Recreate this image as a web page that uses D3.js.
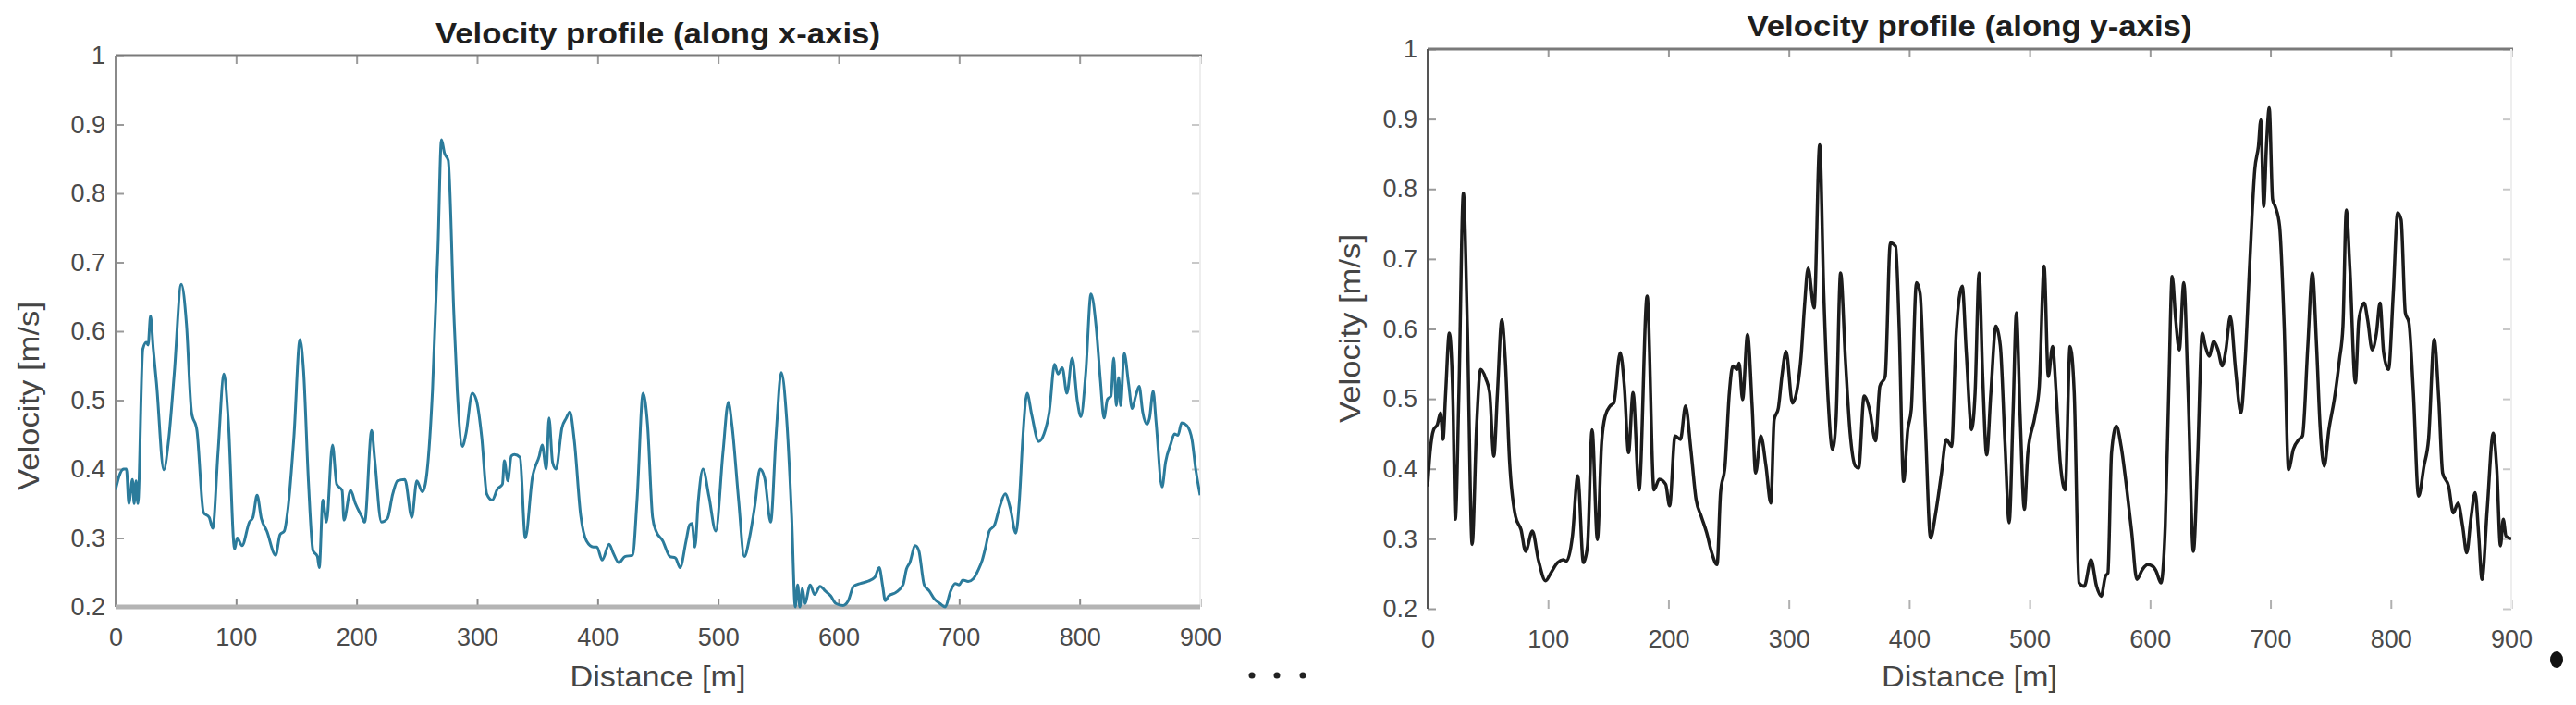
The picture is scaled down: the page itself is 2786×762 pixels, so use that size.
<!DOCTYPE html>
<html>
<head>
<meta charset="utf-8">
<script src="https://cdn.jsdelivr.net/npm/d3@7"></script>
<style>
  html, body { margin: 0; padding: 0; background: #fff; }
  svg { display: block; }
  text { font-family: "Liberation Sans", Arial, Helvetica, sans-serif; }
</style>
</head>
<body>
<svg id="chart" width="2786" height="762"></svg>
<script>
// ---------- Data ----------
const xTicks = [0, 100, 200, 300, 400, 500, 600, 700, 800, 900];
const yTicks = [0.2, 0.3, 0.4, 0.5, 0.6, 0.7, 0.8, 0.9, 1];

const titleX = "Velocity profile (along x-axis)";
const titleY = "Velocity profile (along y-axis)";
const xLabel = "Distance [m]";
const yLabel = "Velocity [m/s]";

// Velocity profile along x-axis
const distX = [0,3,6.7,9,11,14,15.4,17,18.5,22.6,25.5,27,29,31.3,34,40,44,48.7,54.5,58.8,63,67.5,73,77.7,80.6,85,90,93.6,98.8,100.9,105,111,114,117.4,121,125.5,132.8,136.5,140,143,148,153,156,160,163.8,167.5,169,172,175,180,183.5,188,189.5,195,199,204,206.7,212.5,215,220.6,225.5,230,234,240,245.8,250,254.5,257,263,267.5,270.4,273,276,280.6,283.5,287.8,290.7,296,299.4,303.8,308,312.5,316.8,321,322.6,325.5,328.4,331,335.6,340,345.8,351.6,354,357.4,359.7,362.6,365.5,370.4,374,377,380.6,386,390.7,396.5,399.4,403.8,409.6,413,417.7,422.6,429,432.7,437.7,441.4,445.6,448.5,454,460,464.6,468.4,473.4,476.3,478.3,480.7,483.6,487.4,492.4,498,504,508.5,511.4,517,521.7,526,530.4,534.8,538.6,543.6,548,552.4,556.8,561,564,566,567.8,570,572,576.4,580,584.6,589,593.4,597.7,603.6,608,612.4,618.2,624,630,633.7,636.4,638.7,641.6,647.5,653.4,656.3,659,663.6,666.5,671,675.3,679.7,684,688.5,692.9,696.7,700,703,707.5,711.8,716.2,719.2,722,725,729.4,733.8,738.2,742.6,747,750,752.9,756.4,760.2,766,770.4,774.8,779.2,782,785.6,789.4,793.8,798.2,801,805,809.4,813.7,817.2,820.2,823,826,828.3,830.4,832.4,834,837,840.6,843.6,846.5,849.4,852.3,855.8,858,861,863.4,868.4,871.3,875.7,878.7,881.6,884.6,889,893.3,896.3,900];
const velX = [0.37,0.39,0.40,0.40,0.35,0.385,0.35,0.383,0.35,0.574,0.584,0.58,0.622,0.574,0.524,0.399,0.442,0.538,0.668,0.611,0.483,0.456,0.337,0.33,0.314,0.424,0.538,0.469,0.284,0.30,0.289,0.323,0.33,0.362,0.328,0.31,0.275,0.305,0.31,0.342,0.447,0.588,0.542,0.383,0.282,0.273,0.257,0.355,0.323,0.435,0.378,0.369,0.326,0.369,0.35,0.332,0.323,0.456,0.415,0.323,0.328,0.364,0.383,0.385,0.33,0.383,0.367,0.378,0.515,0.72,0.878,0.858,0.848,0.63,0.515,0.433,0.451,0.51,0.50,0.447,0.364,0.355,0.371,0.378,0.412,0.383,0.419,0.421,0.417,0.30,0.387,0.419,0.435,0.40,0.474,0.41,0.40,0.46,0.474,0.483,0.442,0.332,0.296,0.287,0.287,0.268,0.291,0.278,0.264,0.273,0.275,0.355,0.51,0.465,0.33,0.31,0.296,0.273,0.271,0.257,0.296,0.319,0.321,0.287,0.355,0.40,0.36,0.31,0.424,0.497,0.465,0.355,0.273,0.30,0.346,0.40,0.387,0.323,0.447,0.54,0.474,0.332,0.20,0.232,0.2,0.227,0.205,0.232,0.218,0.23,0.223,0.216,0.205,0.202,0.209,0.23,0.234,0.237,0.243,0.257,0.232,0.209,0.216,0.221,0.232,0.255,0.264,0.289,0.282,0.232,0.223,0.211,0.205,0.2,0.223,0.234,0.232,0.239,0.237,0.241,0.255,0.268,0.287,0.31,0.319,0.346,0.364,0.342,0.307,0.355,0.447,0.51,0.479,0.44,0.451,0.483,0.552,0.538,0.547,0.51,0.561,0.497,0.476,0.538,0.654,0.606,0.529,0.474,0.501,0.506,0.561,0.492,0.533,0.492,0.568,0.524,0.488,0.506,0.52,0.483,0.465,0.474,0.513,0.469,0.374,0.41,0.437,0.451,0.449,0.467,0.463,0.442,0.40,0.362];

// Velocity profile along y-axis
const distY = [0,2,5,8,10.8,12.8,15,18,21,23,26,29.7,33,37,40.7,44,48.5,51.5,55,58,61.6,64.5,68,73,77.6,81.4,87,92,98,102.3,108,112.5,115.4,120.3,124.7,129.4,132.8,136.6,141,144.5,147.4,151.7,154.6,160,163.4,166.9,170.6,175.6,182.3,188,192.4,197.7,201,205.5,210,214.2,218.6,223,227.3,231.7,236,240.4,243.3,247,250.6,253.5,257,258.7,261.6,265.7,269.5,272.4,276.7,281,285,287.8,291.3,294.2,297.7,303,307.3,310.2,313,316,321,325.6,329,332.6,336.3,339.2,343,347,350.9,355.2,358,362.5,367,372,375.6,380,384.3,388.7,391.6,395.3,398.8,401.7,406,409,413.4,417.7,422,426.5,430.8,435.2,439,444,447.4,451.8,454.7,458,461,464.3,467.8,472,475.7,479.5,483,486.3,489,492,495.6,498.5,504.4,508,512,515.5,519,522,525.4,529.5,533.6,537,541,545.3,551,555.6,559.4,563,565,568,572,576,580.4,584.8,589,593.6,598,602,605,609,612.6,615.5,618.4,621.3,624.3,628,631.6,636,639.5,643.3,646,649,653,656.4,660,663,666.7,671,675.4,679,682.7,687,690,692,694.4,696.8,699,701.8,704,707.6,711.4,715,719,723.7,726.6,731,734.8,738.3,741.2,744.7,748.5,753,757.3,760.2,763,766,770.5,773.4,777.8,780.7,784.5,788,791,794,798,802,805.6,808.5,812,815,818.7,823,827.5,831.3,836,839.8,843,848,851.8,855.8,859.6,863,866.4,870,872.8,875.7,880,885,888,891,893.3,895.6,900];
const velY = [0.375,0.423,0.456,0.463,0.48,0.442,0.509,0.594,0.499,0.328,0.509,0.794,0.604,0.292,0.461,0.542,0.528,0.509,0.418,0.509,0.613,0.556,0.413,0.332,0.313,0.282,0.311,0.27,0.24,0.251,0.266,0.27,0.268,0.304,0.39,0.266,0.29,0.456,0.299,0.437,0.475,0.49,0.494,0.566,0.518,0.423,0.509,0.37,0.647,0.37,0.385,0.378,0.347,0.447,0.442,0.49,0.428,0.356,0.332,0.309,0.28,0.263,0.366,0.404,0.509,0.547,0.542,0.551,0.499,0.592,0.49,0.394,0.447,0.404,0.351,0.47,0.487,0.532,0.568,0.494,0.518,0.561,0.632,0.687,0.63,0.863,0.651,0.499,0.428,0.47,0.68,0.556,0.451,0.404,0.401,0.504,0.485,0.44,0.518,0.532,0.723,0.718,0.604,0.382,0.456,0.485,0.666,0.651,0.461,0.301,0.337,0.39,0.442,0.432,0.594,0.661,0.566,0.456,0.509,0.68,0.532,0.42,0.509,0.604,0.575,0.437,0.323,0.485,0.623,0.48,0.342,0.423,0.475,0.518,0.69,0.532,0.575,0.509,0.409,0.37,0.575,0.509,0.237,0.232,0.27,0.232,0.218,0.247,0.251,0.423,0.461,0.432,0.375,0.309,0.242,0.256,0.263,0.261,0.254,0.237,0.318,0.509,0.675,0.613,0.57,0.666,0.509,0.282,0.413,0.594,0.575,0.561,0.582,0.57,0.547,0.57,0.618,0.542,0.48,0.556,0.69,0.828,0.861,0.899,0.775,0.866,0.916,0.785,0.775,0.747,0.604,0.399,0.428,0.442,0.447,0.575,0.68,0.575,0.461,0.404,0.456,0.499,0.556,0.604,0.77,0.685,0.523,0.613,0.637,0.613,0.57,0.594,0.637,0.566,0.542,0.651,0.766,0.756,0.623,0.609,0.509,0.361,0.404,0.442,0.585,0.499,0.394,0.375,0.337,0.351,0.318,0.28,0.328,0.366,0.309,0.242,0.342,0.451,0.399,0.29,0.328,0.304,0.30];

// ---------- Drawing ----------
const svg = d3.select("#chart");

function drawPanel(cfg) {
  const x = d3.scaleLinear().domain([0, 900]).range([cfg.left, cfg.right]);
  const y = d3.scaleLinear().domain([0.2, 1]).range([cfg.bottom, cfg.top]);
  const g = svg.append("g");

  const clipId = "clip" + cfg.id;
  svg.append("clipPath").attr("id", clipId)
    .append("rect")
    .attr("x", cfg.left).attr("y", cfg.top - 4)
    .attr("width", cfg.right - cfg.left).attr("height", cfg.bottom - cfg.top + 6);

  // Bottom ticks + labels
  const bottomAxis = g.append("g").attr("transform", `translate(0,${cfg.bottom})`)
    .call(d3.axisBottom(x).tickValues(xTicks).tickSizeInner(-9).tickSizeOuter(0)
      .tickPadding(23).tickFormat(d => String(d)));
  bottomAxis.select(".domain").remove();
  bottomAxis.selectAll(".tick line").attr("stroke", cfg.bottomTickColor).attr("stroke-width", 2);
  bottomAxis.selectAll(".tick text").attr("fill", "#4a4a4a").style("font-size", "27px");

  // Top ticks
  const topAxis = g.append("g").attr("transform", `translate(0,${cfg.top})`)
    .call(d3.axisTop(x).tickValues(xTicks).tickSizeInner(-9).tickSizeOuter(0).tickFormat(""));
  topAxis.select(".domain").remove();
  topAxis.selectAll(".tick line").attr("stroke", "#9a9a9a").attr("stroke-width", 2);

  // Left ticks + labels
  const leftAxis = g.append("g").attr("transform", `translate(${cfg.left},0)`)
    .call(d3.axisLeft(y).tickValues(yTicks).tickSizeInner(-9).tickSizeOuter(0)
      .tickPadding(11).tickFormat(d => String(d)));
  leftAxis.select(".domain").remove();
  leftAxis.selectAll(".tick line").attr("stroke", "#9a9a9a").attr("stroke-width", 2);
  leftAxis.selectAll(".tick text").attr("fill", "#4a4a4a").style("font-size", "27px");

  // Right ticks (faint)
  const rightAxis = g.append("g").attr("transform", `translate(${cfg.right},0)`)
    .call(d3.axisRight(y).tickValues(yTicks).tickSizeInner(-9).tickSizeOuter(0).tickFormat(""));
  rightAxis.select(".domain").remove();
  rightAxis.selectAll(".tick line").attr("stroke", "#c8c8c8").attr("stroke-width", 2);

  // Box lines
  g.append("line").attr("x1", cfg.left).attr("x2", cfg.right + 2)
    .attr("y1", cfg.top).attr("y2", cfg.top)
    .attr("stroke", "#7a7a7a").attr("stroke-width", 3);
  g.append("line").attr("x1", cfg.left).attr("x2", cfg.left)
    .attr("y1", cfg.top).attr("y2", cfg.bottom)
    .attr("stroke", cfg.leftLineColor).attr("stroke-width", 2);
  g.append("line").attr("x1", cfg.right).attr("x2", cfg.right)
    .attr("y1", cfg.top).attr("y2", cfg.bottom)
    .attr("stroke", "#eeeeee").attr("stroke-width", 2);
  if (cfg.bottomLine) {
    g.append("line").attr("x1", cfg.left).attr("x2", cfg.right)
      .attr("y1", cfg.bottom).attr("y2", cfg.bottom)
      .attr("stroke", "#b4b4b4").attr("stroke-width", 5);
  }

  // Data line
  const pts = cfg.dist.map((d, i) => [d, cfg.vel[i]]);
  const line = d3.line().x(d => x(d[0])).y(d => y(d[1])).curve(d3.curveMonotoneX);
  g.append("path").datum(pts)
    .attr("clip-path", `url(#${clipId})`)
    .attr("fill", "none")
    .attr("stroke", cfg.color)
    .attr("stroke-width", cfg.lineWidth)
    .attr("stroke-linejoin", "round")
    .attr("d", line);

  // Title
  g.append("text").attr("x", (cfg.left + cfg.right) / 2).attr("y", cfg.titleY)
    .attr("text-anchor", "middle").attr("fill", "#1e1e1e")
    .style("font-size", "32px").style("font-weight", "bold")
    .attr("textLength", 481).attr("lengthAdjust", "spacingAndGlyphs")
    .text(cfg.title);

  // X label
  g.append("text").attr("x", (cfg.left + cfg.right) / 2).attr("y", 742)
    .attr("text-anchor", "middle").attr("fill", "#454545")
    .style("font-size", "32px")
    .attr("textLength", 190).attr("lengthAdjust", "spacingAndGlyphs")
    .text(xLabel);

  // Y label
  g.append("text")
    .attr("transform", `translate(${cfg.yLabelX},${cfg.yLabelY}) rotate(-90)`)
    .attr("text-anchor", "middle").attr("fill", "#454545")
    .style("font-size", "32px")
    .attr("textLength", 204).attr("lengthAdjust", "spacingAndGlyphs")
    .text(yLabel);
}

drawPanel({
  id: "L", left: 125, right: 1298, top: 60, bottom: 656,
  dist: distX, vel: velX, color: "#2b7b9b", lineWidth: 3,
  title: titleX, titleY: 47, yLabelX: 42, yLabelY: 428,
  bottomLine: true, leftLineColor: "#8a8a8a", bottomTickColor: "#8a8a8a"
});

drawPanel({
  id: "R", left: 1544, right: 2716, top: 53, bottom: 658,
  dist: distY, vel: velY, color: "#1c1c1c", lineWidth: 3.5,
  title: titleY, titleY: 39, yLabelX: 1471, yLabelY: 355,
  bottomLine: false, leftLineColor: "#555555", bottomTickColor: "#b0b0b0"
});

// Decorative dots between panels and clipped marker at the right edge
const dots = [1354, 1381, 1409];
svg.selectAll("circle.dot").data(dots).enter().append("circle")
  .attr("class", "dot").attr("cx", d => d).attr("cy", 730).attr("r", 3.5).attr("fill", "#222");
svg.append("ellipse").attr("cx", 2765).attr("cy", 713).attr("rx", 7).attr("ry", 9).attr("fill", "#111");
</script>
</body>
</html>
